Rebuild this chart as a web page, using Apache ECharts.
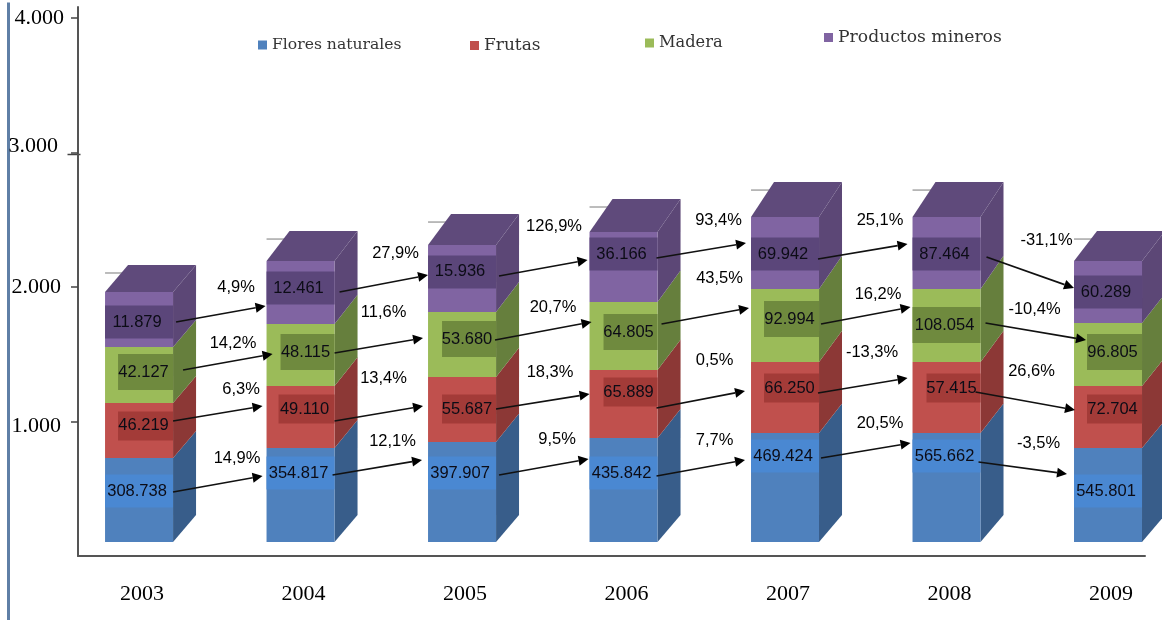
<!DOCTYPE html>
<html>
<head>
<meta charset="utf-8">
<style>html,body{margin:0;padding:0;background:#fff}#c{width:1162px;height:620px}</style>
<script src="https://cdn.jsdelivr.net/npm/echarts@6/dist/echarts.min.js"></script>
</head>
<body>
<div id="c"></div>
<script>
const years = ['2003','2004','2005','2006','2007','2008','2009'];
const seriesNames = ['Flores naturales','Frutas','Madera','Productos mineros'];
const yTicks = [1000,2000,3000,4000];
const yTickLabels = ['1.000','2.000','3.000','4.000'];

// Segment heights as read on the drawn axis
const floresHeights    = [625,699,744,773,810,810,699];
const frutasHeights    = [409,461,483,506,528,528,461];
const maderaHeights    = [416,461,483,505,543,543,468];
const mineralesHeights = [409,468,498,521,535,535,461];

// Printed value labels
const floresLabels    = ['308.738','354.817','397.907','435.842','469.424','565.662','545.801'];
const frutasLabels    = ['46.219','49.110','55.687','65.889','66.250','57.415','72.704'];
const maderaLabels    = ['42.127','48.115','53.680','64.805','92.994','108.054','96.805'];
const mineralesLabels = ['11.879','12.461','15.936','36.166','69.942','87.464','60.289'];

// Printed growth labels
const floresPct    = ['14,9%','12,1%','9,5%','7,7%','20,5%','-3,5%'];
const frutasPct    = ['6,3%','13,4%','18,3%','0,5%','-13,3%','26,6%'];
const maderaPct    = ['14,2%','11,6%','20,7%','43,5%','16,2%','-10,4%'];
const mineralesPct = ['4,9%','27,9%','126,9%','93,4%','25,1%','-31,1%'];

// Annotation placement, in axis units (vertical) and px from bar centre (horizontal)
const labelLevels = [
  [483,617,617,617,743,743,483],
  [967,1093,1093,1219,1249,1249,1093],
  [1368,1517,1613,1665,1762,1717,1517],
  [1740,1993,2112,2245,2245,2245,1963]
];
const boxInsets = [
  [0,0,0,0,0,0,0],
  [13,12,14,14,13,14,13],
  [13,14,14,14,13,0,13],
  [0,0,0,0,0,0,0]
];
const boxHeights = [33,29,36,33];
const pctLevels = [
  [729,855,870,862,989,840],
  [1242,1323,1368,1457,1517,1375],
  [1584,1814,1851,2067,1948,1836],
  [2000,2253,2454,2498,2498,2349]
];
const pctOffsets = [
  [98,92,95,91,95,92],
  [102,83,88,91,87,85],
  [94,83,91,96,93,88],
  [97,95,92,95,95,100]
];
const arrowStarts = [
  [[34,476],[32,602],[37,602],[33,595],[36,729],[32,699]],
  [[34,1004],[34,1004],[34,1093],[33,1100],[33,1212],[29,1219]],
  [[44,1383],[34,1509],[33,1606],[38,1725],[36,1725],[39,1732]],
  [[37,1740],[39,1963],[37,2082],[33,2216],[33,2208],[40,2223]]
];
const arrowEnds = [
  [[-38,595],[-40,714],[-35,721],[-40,714],[-36,840],[-41,610]],
  [[-38,1115],[-39,1115],[-34,1204],[-40,1227],[-39,1323],[-33,1086]],
  [[-28,1502],[-39,1621],[-32,1740],[-36,1844],[-36,1851],[-22,1606]],
  [[-35,1859],[-34,2089],[-36,2201],[-39,2327],[-39,2320],[-34,1993]]
];
const topRises = [27,30,31,33,35,35,30];

const heights = [floresHeights,frutasHeights,maderaHeights,mineralesHeights];
const valueLabels = [floresLabels,frutasLabels,maderaLabels,mineralesLabels];
const pctLabels = [floresPct,frutasPct,maderaPct,mineralesPct];

const frontColors = ['#4f81bd','#c0504d','#9bbb59','#8064a2'];
const sideColors  = ['#385d8a','#8c3836','#667f3d','#5c4776'];
const boxColors   = ['#4a88d2','#a33b38','#6f8a3e','#5b467a'];
const topColor = '#5f4a7b';
const FLOOR = 104, HALF = 34, DX = 23, BASE_RISE = 27;

function cubeSeries(s) {
  return {
    type: 'custom',
    name: seriesNames[s],
    coordinateSystem: 'cartesian2d',
    clip: false,
    z: 2 + s,
    itemStyle: { color: frontColors[s] },
    data: heights[s].map((h, i) => [i, h]),
    renderItem: function (params, api) {
      const i = api.value(0);
      let v0 = FLOOR;
      for (let k = 0; k < s; k++) v0 += heights[k][i];
      const v1 = v0 + api.value(1);
      let total = FLOOR;
      for (let k = 0; k < heights.length; k++) total += heights[k][i];
      const rise = v => BASE_RISE + (topRises[i] - BASE_RISE) * (v - FLOOR) / (total - FLOOR);
      const cx = api.coord([i, 0])[0];
      const y0 = api.coord([i, v0])[1], y1 = api.coord([i, v1])[1];
      const l = cx - HALF, r = cx + HALF;
      const poly = (points, fill) => ({ type: 'polygon', shape: { points }, style: { fill } });
      const kids = [];
      if (s === 3) {
        const sy = y1 - rise(v1) + 8;
        kids.push({ type: 'line', shape: { x1: l, y1: sy, x2: l + 20, y2: sy }, style: { stroke: '#a6a6a6', lineWidth: 1.5 } });
      }
      kids.push(poly([[r, y0], [r + DX, y0 - rise(v0)], [r + DX, y1 - rise(v1)], [r, y1]], sideColors[s]));
      kids.push(poly([[l, y0], [r, y0], [r, y1], [l, y1]], frontColors[s]));
      if (s === 3) {
        kids.push(poly([[l, y1], [l + DX, y1 - rise(v1)], [r + DX, y1 - rise(v1)], [r, y1]], topColor));
      }
      return { type: 'group', children: kids };
    }
  };
}

const boxSeries = {
  type: 'custom',
  name: 'etiquetas',
  coordinateSystem: 'cartesian2d',
  clip: false,
  z: 10,
  silent: true,
  data: labelLevels.flatMap((row, s) => row.map((v, i) => [i, v, s])),
  renderItem: function (params, api) {
    const i = api.value(0), s = api.value(2);
    const p = api.coord([i, api.value(1)]);
    const l = p[0] - HALF + boxInsets[s][i], r = p[0] + HALF, h = boxHeights[s];
    return {
      type: 'group',
      children: [
        { type: 'rect', shape: { x: l, y: p[1] - h / 2, width: r - l, height: h }, style: { fill: boxColors[s] } },
        { type: 'text', style: {
            x: (l + r) / 2 - 2, y: p[1], text: valueLabels[s][i], fill: '#0c0c16',
            font: '16.5px "Liberation Sans"', align: 'center', verticalAlign: 'middle' } }
      ]
    };
  }
};

const arrowData = [];
arrowStarts.forEach((row, s) => row.forEach((st, i) => arrowData.push([i, st[1], arrowEnds[s][i][1], s])));

const arrowSeries = {
  type: 'custom',
  name: 'flechas',
  coordinateSystem: 'cartesian2d',
  clip: false,
  z: 11,
  silent: true,
  data: arrowData,
  renderItem: function (params, api) {
    const i = api.value(0), s = api.value(3);
    const a = api.coord([i, api.value(1)]);
    const b = api.coord([i + 1, api.value(2)]);
    const x1 = a[0] + arrowStarts[s][i][0], y1 = a[1];
    const x2 = b[0] + arrowEnds[s][i][0], y2 = b[1];
    const t = Math.atan2(y2 - y1, x2 - x1), len = 10, w = 5;
    const bx = x2 - len * Math.cos(t), by = y2 - len * Math.sin(t);
    const nx = -Math.sin(t) * w, ny = Math.cos(t) * w;
    return {
      type: 'group',
      children: [
        { type: 'line', shape: { x1, y1, x2: bx, y2: by }, style: { stroke: '#111', lineWidth: 1.6 } },
        { type: 'polygon', shape: { points: [[x2, y2], [bx + nx, by + ny], [bx - nx, by - ny]] }, style: { fill: '#000' } }
      ]
    };
  }
};

const pctData = [];
pctLevels.forEach((row, s) => row.forEach((v, i) => pctData.push([i, v, s])));

const pctSeries = {
  type: 'custom',
  name: 'variaciones',
  coordinateSystem: 'cartesian2d',
  clip: false,
  z: 12,
  silent: true,
  data: pctData,
  renderItem: function (params, api) {
    const i = api.value(0), s = api.value(2);
    const p = api.coord([i, api.value(1)]);
    return {
      type: 'text',
      style: { x: p[0] + pctOffsets[s][i], y: p[1], text: pctLabels[s][i], fill: '#000',
        font: '16.5px "Liberation Sans"', align: 'center', verticalAlign: 'middle' }
    };
  }
};

const mkLegend = (name, left, top, size) => ({
  data: [name], left, top, icon: 'rect', itemWidth: 9, itemHeight: 9, itemGap: 0,
  selectedMode: false, padding: 0,
  textStyle: { fontFamily: 'DejaVu Serif', fontSize: size, color: '#333' }
});

const chart = echarts.init(document.getElementById('c'));
chart.setOption({
  animation: false,
  backgroundColor: '#fff',
  legend: [
    mkLegend(seriesNames[0], 258, 37, 15.6),
    mkLegend(seriesNames[1], 470, 37, 17),
    mkLegend(seriesNames[2], 645, 35, 16.2),
    mkLegend(seriesNames[3], 824, 29, 17.2)
  ],
  grid: { left: 78, right: 17, top: 7, bottom: 64 },
  xAxis: {
    type: 'value', min: -0.378, max: 6.229,
    splitLine: { show: false },
    axisLine: { show: true, onZero: false, lineStyle: { color: '#555', width: 2 } },
    axisTick: { show: false },
    axisLabel: {
      customValues: years.map((y, i) => i),
      formatter: v => years[Math.round(v)],
      margin: 27, padding: [0, 0, 0, 6],
      fontFamily: 'Liberation Serif', fontSize: 22, color: '#000'
    }
  },
  yAxis: {
    type: 'value', min: 0, max: 4082,
    splitLine: { show: false },
    axisLine: { show: true, onZero: false, lineStyle: { color: '#555', width: 2 } },
    axisTick: { show: true, customValues: yTicks, length: 7, lineStyle: { color: '#444', width: 1.5 } },
    axisLabel: {
      customValues: yTicks,
      formatter: v => '{t' + yTicks.indexOf(v) + '|' + yTickLabels[yTicks.indexOf(v)] + '}',
      margin: 14,
      fontFamily: 'Liberation Serif', fontSize: 22, color: '#000',
      rich: {
        t0: { fontFamily: 'Liberation Serif', fontSize: 22, color: '#000', padding: [10, 3, 0, 0] },
        t1: { fontFamily: 'Liberation Serif', fontSize: 22, color: '#000', padding: [0, 3, 0, 0] },
        t2: { fontFamily: 'Liberation Serif', fontSize: 22, color: '#000', padding: [0, 6, 12, 0] },
        t3: { fontFamily: 'Liberation Serif', fontSize: 22, color: '#000', padding: [0, 0, 0, 0] }
      }
    }
  },
  graphic: [
    { type: 'line', left: 6, top: 0, shape: { x1: 0, y1: 0, x2: 0, y2: 620 }, style: { stroke: '#5f7fa6', lineWidth: 3 }, silent: true },
    { type: 'line', left: 65, top: 152, shape: { x1: 0, y1: 0, x2: 13, y2: 0 }, style: { stroke: '#444', lineWidth: 1.5 }, silent: true }
  ],
  series: [0,1,2,3].map(cubeSeries).concat([boxSeries, arrowSeries, pctSeries])
});
</script>
</body>
</html>
